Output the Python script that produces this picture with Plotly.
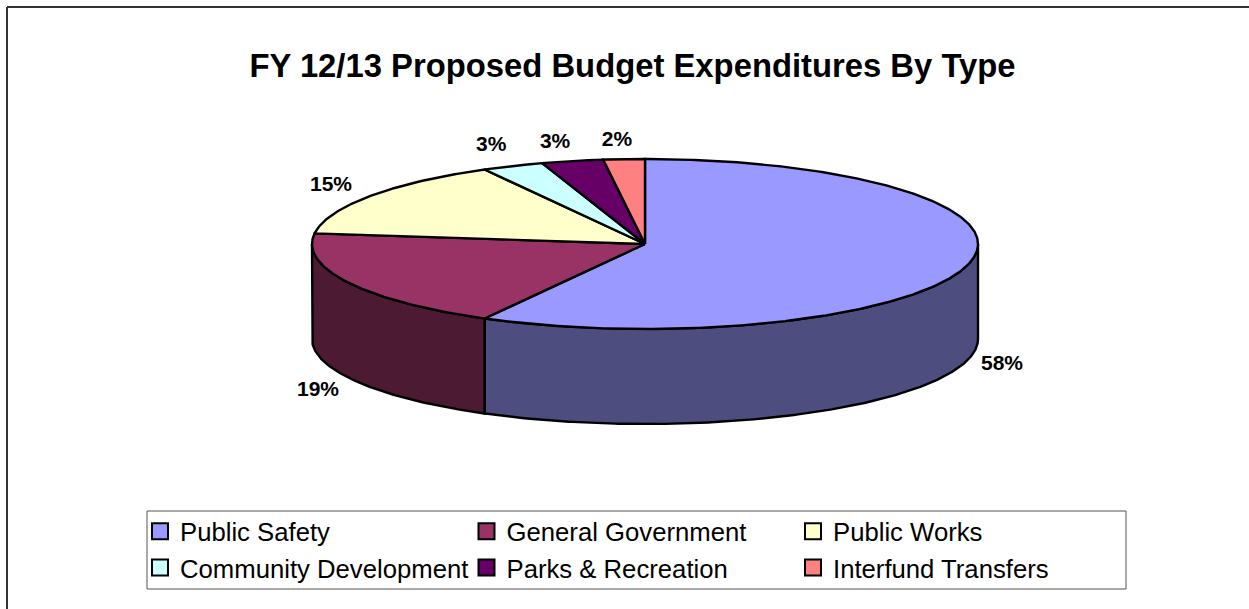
import numpy as np
import plotly.graph_objects as go

categories = ["Public Safety", "General Government", "Public Works",
              "Community Development", "Parks & Recreation", "Interfund Transfers"]
shares = [58, 19, 15, 3, 3, 2]
top_colors = ["#9999FF", "#993366", "#FFFFCC", "#CCFFFF", "#660066", "#FF8080"]
side_colors = ["#4D4D80", "#4D1A33", "#80806A", "#6A8080", "#330033", "#804040"]
title_text = "FY 12/13 Proposed Budget Expenditures By Type"

WIDTH, HEIGHT = 1249, 609
CX, CY = 645, 244          # pie centre, pixels
RX, RY = 333, 85           # ellipse radii, pixels
DEPTH = 95 / RY            # wall height in pie units

# Label centres in pie units, measured from the pie centre
label_pos = [(1.072, -1.424), (-0.982, -1.730), (-0.943, 0.682),
             (-0.462, 1.152), (-0.27, 1.186), (-0.084, 1.211)]


def arc(a, b):
    t = np.radians(np.linspace(a, b, max(int(abs(b - a) * 2), 2)))
    return np.sin(t), np.cos(t)


fig = go.Figure()
edge = dict(color="black", width=2.4)

edges = np.concatenate([[0], np.cumsum(shares)]) * 360 / sum(shares)

# Outer walls: only the front half of the disc is visible
for i, name in enumerate(categories):
    a, b = max(edges[i], 90), min(edges[i + 1], 270)
    if a >= b:
        continue
    x, y = arc(a, b)
    fig.add_trace(go.Scatter(
        x=np.r_[x, x[::-1], x[0]], y=np.r_[y, y[::-1] - DEPTH, y[0]],
        mode="lines", fill="toself", fillcolor=side_colors[i], line=edge,
        showlegend=False, hoverinfo="skip"))

# Top faces
for i, name in enumerate(categories):
    x, y = arc(edges[i], edges[i + 1])
    fig.add_trace(go.Scatter(
        x=np.r_[0, x, 0], y=np.r_[0, y, 0],
        mode="lines", fill="toself", fillcolor=top_colors[i], line=edge,
        showlegend=False, hoverinfo="skip"))

# Legend entries
for i, name in enumerate(categories):
    fig.add_trace(go.Scatter(
        x=[None], y=[None], mode="markers", name=name,
        marker=dict(symbol="square", size=16, color=top_colors[i],
                    line=dict(color="black", width=2))))

# Percentage labels
fig.add_trace(go.Scatter(
    x=[p[0] for p in label_pos], y=[p[1] for p in label_pos],
    mode="text", text=[f"<b>{v}%</b>" for v in shares], showlegend=False,
    textposition="middle center", hoverinfo="skip",
    textfont=dict(family="Liberation Sans", size=21, color="black")))

fig.update_layout(
    width=WIDTH, height=HEIGHT, autosize=False,
    margin=dict(l=0, r=0, t=0, b=0, autoexpand=False),
    paper_bgcolor="white", plot_bgcolor="white",
    font=dict(family="Liberation Sans", color="black"),
    title=dict(text=f"<b>{title_text}</b>", x=632.5 / WIDTH, xanchor="center",
               y=1 - 66 / HEIGHT, yanchor="middle",
               font=dict(family="Liberation Sans", size=32.8, color="black")),
    xaxis=dict(range=[-CX / RX, (WIDTH - CX) / RX], visible=False, fixedrange=True),
    yaxis=dict(range=[-(HEIGHT - CY) / RY, CY / RY], visible=False, fixedrange=True),
    legend=dict(orientation="h", x=140 / WIDTH, y=1 - 508 / HEIGHT,
                xanchor="left", yanchor="top", entrywidth=281.5, entrywidthmode="pixels",
                traceorder="normal", borderwidth=0, bgcolor="rgba(0,0,0,0)",
                font=dict(family="Liberation Sans", size=25.7, color="black")),
    shapes=[
        # Chart frame: top and left edges
        dict(type="line", xref="paper", yref="paper", x0=7 / WIDTH, x1=7 / WIDTH,
             y0=0, y1=1 - 7 / HEIGHT, line=dict(color="#333333", width=2)),
        dict(type="line", xref="paper", yref="paper", x0=7 / WIDTH, x1=1,
             y0=1 - 7 / HEIGHT, y1=1 - 7 / HEIGHT, line=dict(color="#333333", width=2)),
        # Legend box
        dict(type="rect", xref="paper", yref="paper", x0=147 / WIDTH, x1=1126 / WIDTH,
             y0=1 - 589 / HEIGHT, y1=1 - 511 / HEIGHT, line=dict(color="#555555", width=1)),
    ],
)

fig.write_html("out.html")
